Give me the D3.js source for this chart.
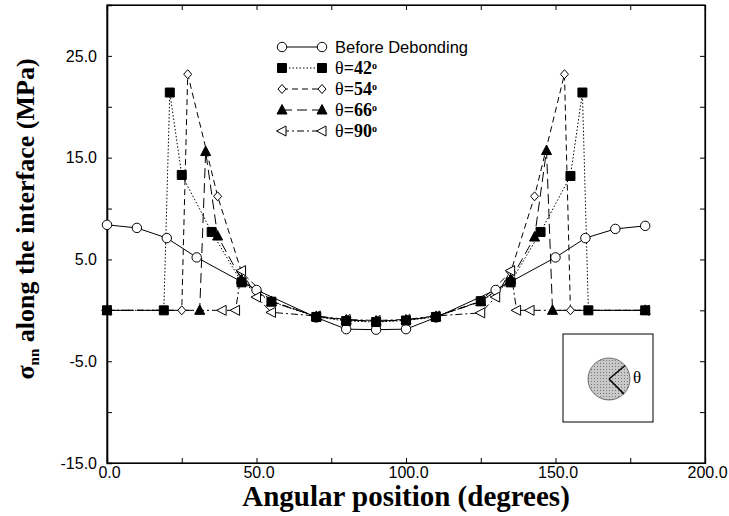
<!DOCTYPE html>
<meta charset="utf-8">
<script src="https://cdn.jsdelivr.net/npm/d3@7/dist/d3.min.js"></script>
<style>
  body { margin: 0; background: #fff; }
  .tick text { font-family: "Liberation Sans", Arial, sans-serif; font-size: 16px; fill: #000; }
</style>
<div id="chart"></div>
<script>

// data
var xBefore = [0, 10, 20, 30, 45, 50, 70, 80, 90, 100, 110, 130, 135, 150, 160, 170, 180];
var yBefore = [8.4, 8.1, 7.1, 5.2, 2.8, 2.0, -0.7, -1.85, -1.9, -1.85, -0.7, 2.0, 2.8, 5.2, 7.1, 8.0, 8.3];

var x42 = [0, 19, 21, 25, 35, 45, 55, 70, 80, 90, 100, 110, 125, 135, 145, 155, 159, 161, 180];
var y42 = [0, 0, 21.4, 13.3, 7.7, 2.75, 0.85, -0.65, -1.05, -1.15, -1.0, -0.65, 0.9, 2.75, 7.7, 13.2, 21.4, 0, 0];

var x54 = [0, 25, 27, 37, 45, 55, 70, 80, 90, 100, 110, 125, 135, 143, 153, 155, 180];
var y54 = [0, 0, 23.2, 11.2, 3.75, 0.9, -0.6, -0.95, -1.1, -0.95, -0.6, 0.9, 3.75, 11.2, 23.2, 0, 0];

var x66 = [0, 31, 33, 37, 45, 55, 70, 80, 90, 100, 110, 125, 135, 143, 147, 149, 180];
var y66 = [0, 0, 15.6, 7.3, 3.0, 0.85, -0.6, -0.95, -1.05, -0.95, -0.6, 0.85, 3.0, 7.2, 15.7, 0, 0];

var x90 = [0, 38.5, 43, 45, 50, 55, 70, 80, 90, 100, 110, 125, 130, 135, 137, 141.5, 180];
var y90 = [0, 0, 0, 3.9, 1.3, -0.2, -0.55, -0.9, -1.0, -0.9, -0.55, -0.25, 1.3, 3.9, 0, 0, 0];

var seriesNames = ["Before Debonding", "42", "54", "66", "90"];
var xTicks = [0, 25, 50, 75, 100, 125, 150, 175, 200];
var yTicks = [-15, -10, -5, 0, 5, 10, 15, 20, 25, 30];

var width = 729, height = 516;

var svg = d3.select("#chart")
  .append("svg")
    .attr("width", width)
    .attr("height", height)
    .style("font-family", "'Liberation Sans', Arial, sans-serif");

var x = d3.scaleLinear().domain([0, 200]).range([107, 705]);
var y = d3.scaleLinear().domain([-15, 30]).range([463, 5]);

// frame
svg.append("rect")
  .attr("x", x(0)).attr("y", y(30))
  .attr("width", x(200) - x(0)).attr("height", y(-15) - y(30))
  .attr("fill", "none").attr("stroke", "#000").attr("stroke-width", 1.2);

// axes, ticks pointing inward
var fmtX = function(d) { return d % 50 === 0 ? d.toFixed(1) : ""; };
var fmtY = function(d) { return Math.abs(d) % 10 === 5 ? d.toFixed(1) : ""; };

var gx = svg.append("g")
  .attr("transform", "translate(0," + y(-15) + ")")
  .call(d3.axisBottom(x).tickValues(xTicks).tickSize(-5).tickPadding(4).tickFormat(fmtX));
gx.selectAll(".tick text").attr("dx", "2");

var gxTop = svg.append("g")
  .attr("transform", "translate(0," + y(30) + ")")
  .call(d3.axisTop(x).tickValues(xTicks).tickSize(-5).tickFormat(""));

var gy = svg.append("g")
  .attr("transform", "translate(" + x(0) + ",0)")
  .call(d3.axisLeft(y).tickValues(yTicks).tickSize(-5).tickPadding(10).tickFormat(fmtY));

var gyRight = svg.append("g")
  .attr("transform", "translate(" + x(200) + ",0)")
  .call(d3.axisRight(y).tickValues(yTicks).tickSize(-5).tickFormat(""));

svg.selectAll(".domain").attr("stroke", "#000").attr("stroke-width", 1.2);
gy.select(".domain").attr("stroke-width", 1.6);

// axis titles
svg.append("text")
  .attr("x", 406).attr("y", 506)
  .attr("text-anchor", "middle")
  .style("font-family", "'Liberation Serif', 'Times New Roman', serif")
  .style("font-weight", "bold")
  .style("font-size", "29px")
  .text("Angular position (degrees)");

var ylab = svg.append("text")
  .attr("transform", "translate(34,219) rotate(-90)")
  .attr("text-anchor", "middle")
  .style("font-family", "'Liberation Serif', 'Times New Roman', serif")
  .style("font-weight", "bold")
  .style("font-size", "26px");
ylab.append("tspan").text("σ");
ylab.append("tspan").attr("baseline-shift", "-30%").style("font-size", "15px").text("nn");
ylab.append("tspan").text(" along the interface (MPa)");

// series setup
function zip(xs, ys) { return xs.map(function(d, i) { return {x: d, y: ys[i]}; }); }

var series = [
  {name: seriesNames[0], data: zip(xBefore, yBefore), dash: null, marker: "circle"},
  {name: seriesNames[1], data: zip(x42, y42), dash: "1.5,2", marker: "square"},
  {name: seriesNames[2], data: zip(x54, y54), dash: "6,4", marker: "diamond"},
  {name: seriesNames[3], data: zip(x66, y66), dash: "10,5", marker: "triangle"},
  {name: seriesNames[4], data: zip(x90, y90), dash: "7,3,2,3", marker: "ltriangle"}
];

function markerPath(type) {
  if (type === "circle") return d3.symbol().type(d3.symbolCircle).size(70)();
  if (type === "square") return "M-4.5,-4.5H4.5V4.5H-4.5Z";
  if (type === "diamond") return "M0,-4.5L4,0L0,4.5L-4,0Z";
  if (type === "triangle") return "M0,-5.5L5,4L-5,4Z";
  return "M-5.5,0L4,-5L4,5Z";
}
function markerFill(type) {
  return (type === "square" || type === "triangle") ? "#000" : "#fff";
}

var line = d3.line().x(function(d) { return x(d.x); }).y(function(d) { return y(d.y); });

// lines
svg.append("g").selectAll("path")
  .data(series)
  .enter()
  .append("path")
    .attr("d", function(d) { return line(d.data); })
    .attr("fill", "none")
    .attr("stroke", "#000")
    .attr("stroke-width", 1)
    .attr("stroke-dasharray", function(d) { return d.dash; });

// markers, squares on top
var order = [0, 2, 3, 4, 1];
order.forEach(function(i) {
  var s = series[i];
  svg.append("g").selectAll("path")
    .data(s.data)
    .enter()
    .append("path")
      .attr("transform", function(d) { return "translate(" + x(d.x) + "," + y(d.y) + ")"; })
      .attr("d", markerPath(s.marker))
      .attr("fill", markerFill(s.marker))
      .attr("stroke", "#000")
      .attr("stroke-width", 1);
});

// legend
var lx0 = 282, lx1 = 322, ly0 = 47, ldy = 21;
series.forEach(function(s, i) {
  var ly = ly0 + i * ldy;
  var g = svg.append("g");
  g.append("line")
    .attr("x1", lx0).attr("x2", lx1).attr("y1", ly).attr("y2", ly)
    .attr("stroke", "#000").attr("stroke-width", 1)
    .attr("stroke-dasharray", s.dash);
  [lx0, lx1].forEach(function(px) {
    g.append("path")
      .attr("transform", "translate(" + px + "," + ly + ")")
      .attr("d", markerPath(s.marker))
      .attr("fill", markerFill(s.marker))
      .attr("stroke", "#000");
  });
  var t = g.append("text").attr("x", 335).attr("y", ly + 6);
  if (i === 0) {
    t.style("font-size", "16.5px").text(s.name);
  } else {
    t.style("font-family", "'Liberation Serif', 'Times New Roman', serif").style("font-size", "18px");
    t.append("tspan").text("θ");
    t.append("tspan").style("font-weight", "bold").text("=" + s.name);
    t.append("tspan").attr("baseline-shift", "55%").style("font-size", "10px").style("font-weight", "bold").text("o");
  }
});

// inset sketch
var inset = svg.append("g");
inset.append("rect")
  .attr("x", 563).attr("y", 334).attr("width", 90).attr("height", 88)
  .attr("fill", "#fff").attr("stroke", "#000").attr("stroke-width", 1);
var defs = svg.append("defs");
var pat = defs.append("pattern")
  .attr("id", "hatch").attr("width", 3).attr("height", 3)
  .attr("patternUnits", "userSpaceOnUse");
pat.append("rect").attr("width", 3).attr("height", 3).attr("fill", "#c8c8c8");
pat.append("rect").attr("width", 1).attr("height", 1).attr("fill", "#777");
inset.append("circle")
  .attr("cx", 609).attr("cy", 379).attr("r", 21)
  .attr("fill", "url(#hatch)").attr("stroke", "#555").attr("stroke-width", 0.8);
[-40, 45].forEach(function(a) {
  var r = a * Math.PI / 180;
  inset.append("line")
    .attr("x1", 609).attr("y1", 379)
    .attr("x2", 609 + 21 * Math.cos(r)).attr("y2", 379 + 21 * Math.sin(r))
    .attr("stroke", "#000").attr("stroke-width", 1.5);
});
inset.append("text")
  .attr("x", 633).attr("y", 383)
  .style("font-family", "'Liberation Serif', 'Times New Roman', serif")
  .style("font-size", "17px")
  .text("θ");

</script>
